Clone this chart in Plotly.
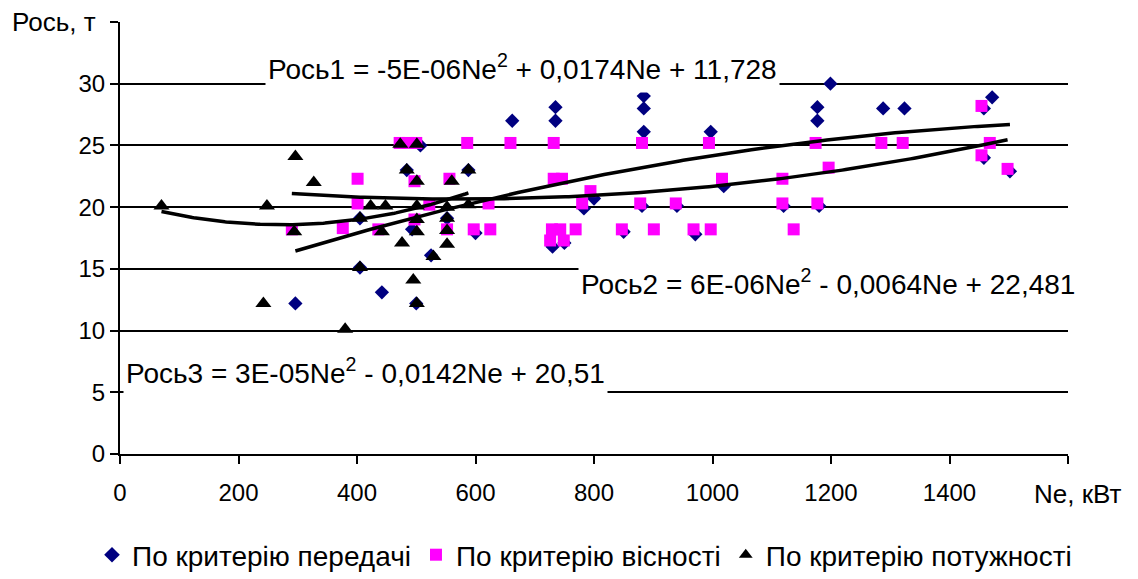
import numpy as np
import plotly.graph_objects as go

# --- data: Ne (kW) vs Рось (t) for three selection criteria ---
ne_transfer = [296, 405, 405, 442, 484, 493, 500, 507, 525, 552, 588, 600, 662, 735, 735,
               730, 750, 783, 800, 850, 884, 884, 884, 881, 940, 971, 997, 1019, 1120,
               1177, 1177, 1180, 1199, 1288, 1324, 1458, 1458, 1472, 1502]
r_transfer = [12.2, 15.1, 19.1, 13.1, 23.0, 18.2, 12.2, 25.0, 16.1, 19.1, 23.0, 17.9, 27.0, 28.1, 27.0,
              16.8, 17.1, 19.9, 20.7, 18.0, 29.0, 28.0, 26.1, 20.1, 20.1, 17.8, 26.1, 21.7, 20.1,
              28.1, 27.0, 20.1, 30.0, 28.0, 28.0, 28.0, 24.0, 28.9, 22.9]

ne_strength = [290, 376, 401, 401, 436, 472, 486, 500, 497, 497, 522, 552, 556, 586, 597,
               622, 625, 659, 726, 749, 732, 732, 746, 729, 743, 769, 780, 794, 847, 878,
               881, 901, 938, 968, 994, 997, 1016, 1118, 1118, 1137, 1174, 1177, 1196, 1285,
               1321, 1454, 1454, 1468, 1498]
r_strength = [18.2, 18.3, 22.3, 20.3, 18.2, 25.2, 25.2, 25.2, 22.1, 19.0, 20.2, 18.2, 22.3, 25.2, 18.2,
              20.3, 18.2, 25.2, 17.3, 17.3, 25.2, 22.3, 22.3, 18.2, 18.2, 18.2, 20.3, 21.3, 18.2, 20.3,
              25.2, 18.2, 20.3, 18.2, 25.2, 18.2, 22.3, 22.3, 20.3, 18.2, 25.2, 20.3, 23.2, 25.2,
              25.2, 28.2, 24.2, 25.2, 23.1]

ne_power = [70, 242, 248, 296, 327, 294, 380, 405, 405, 423, 442, 448, 473, 476, 484,
            495, 501, 501, 501, 501, 501, 501, 529, 552, 552, 552, 552, 560, 588, 588]
r_power = [20.1, 12.2, 20.1, 24.1, 22.0, 18.0, 10.1, 15.1, 19.1, 20.1, 18.0, 20.1, 25.1, 17.1, 23.0,
           14.1, 25.1, 22.1, 20.1, 19.0, 18.0, 12.2, 16.0, 20.0, 19.1, 18.1, 17.0, 22.1, 23.0, 20.2]

# quadratic trend coefficients (a, b, c): Рось = a*Ne^2 + b*Ne + c
coef_transfer = (-4.95e-6, 0.0174, 11.728)
coef_strength = (5.6e-6, -0.0064, 22.481)
coef_power = (2.6e-5, -0.0142, 20.51)

series_names = ["По критерію передачі", "По критерію вісності", "По критерію потужності"]
x_ticks = [0, 200, 400, 600, 800, 1000, 1200, 1400]
y_ticks = [0, 5, 10, 15, 20, 25, 30]

FONT = "Liberation Sans, Arial, sans-serif"

# plot-area geometry in pixels
L, R, T, B = 120, 1068, 22, 454
PW, PH = R - L, B - T


def trend(coef, xs):
    a, b, c = coef
    xs = np.asarray(xs, dtype=float)
    return a * xs ** 2 + b * xs + c


def fmt_num(v, decimals):
    s = f"{abs(v):.{decimals}f}".rstrip("0").rstrip(".")
    return s.replace(".", ",")


def equation_text(idx, coef):
    a, b, c = coef
    a_txt = f"{a:.0E}"
    sign_b = "+" if b >= 0 else "-"
    sign_c = "+" if c >= 0 else "-"
    return (f"Рось{idx} = {a_txt}Ne<sup>2</sup> {sign_b} {fmt_num(b, 4)}Ne "
            f"{sign_c} {fmt_num(c, 3)}")


fig = go.Figure()

fig.add_trace(go.Scatter(
    x=ne_transfer, y=r_transfer, mode="markers", name=series_names[0],
    marker=dict(symbol="diamond", size=11, color="#000080", line=dict(width=0)),
))
fig.add_trace(go.Scatter(
    x=ne_strength, y=r_strength, mode="markers", name=series_names[1],
    marker=dict(symbol="square", size=12, color="#FF00FF", line=dict(width=0)),
))
fig.add_trace(go.Scatter(
    x=ne_power, y=r_power, mode="markers", name=series_names[2],
    marker=dict(symbol="triangle-up", size=14, color="#000000", line=dict(width=0)),
))

# trend curves over each series' Ne span
for xs, coef in [(ne_transfer, coef_transfer), (ne_strength, coef_strength), (ne_power, coef_power)]:
    xx = np.linspace(min(xs), max(xs), 200)
    fig.add_trace(go.Scatter(
        x=xx, y=trend(coef, xx), mode="lines", showlegend=False, hoverinfo="skip",
        line=dict(color="black", width=3.5),
    ))

# equation labels on white boxes (left edge px, centre px)
eq_specs = [
    (1, coef_transfer, 265, 67),
    (2, coef_strength, 578, 282),
    (3, coef_power, 123, 371),
]
for idx, coef, px_left, py_mid in eq_specs:
    fig.add_annotation(
        x=(px_left - L) / PW, xref="paper", y=(B - py_mid) / PH, yref="paper",
        xanchor="left", yanchor="middle", showarrow=False,
        text=equation_text(idx, coef),
        font=dict(family=FONT, size=28, color="black"),
        bgcolor="white", borderpad=2, height=46,
    )

fig.add_annotation(
    x=(10 - L) / PW, xref="paper", y=1.0, yref="paper", xanchor="left", yanchor="middle",
    text="Рось, т", showarrow=False, font=dict(family=FONT, size=26, color="black"),
)
fig.add_annotation(
    x=(1032 - L) / PW, xref="paper", y=(B - 494) / PH, yref="paper",
    xanchor="left", yanchor="middle",
    text="Ne, кВт", showarrow=False, font=dict(family=FONT, size=26, color="black"),
)

fig.update_layout(
    width=1138, height=579,
    margin=dict(l=L, r=1138 - R, t=T, b=579 - B, autoexpand=False),
    paper_bgcolor="white", plot_bgcolor="white",
    font=dict(family=FONT, size=24, color="black"),
    showlegend=True,
    legend=dict(
        orientation="h",
        x=(92 - L) / PW, xanchor="left",
        y=(B - 555) / PH, yanchor="middle",
        font=dict(family=FONT, size=28, color="black"), itemsizing="constant",
        bgcolor="rgba(0,0,0,0)", itemwidth=30,
    ),
    xaxis=dict(
        range=[0, 1600], tickvals=x_ticks,
        showgrid=False, zeroline=False, showline=True, linecolor="black", linewidth=2,
        ticks="outside", ticklen=8, tickwidth=2, tickcolor="black",
        ticklabelstandoff=8, automargin=False,
        minor=dict(tickvals=[1600], ticks="outside", ticklen=8, tickwidth=2,
                   tickcolor="black", showgrid=False),
        tickfont=dict(family=FONT, size=24, color="black"),
    ),
    yaxis=dict(
        range=[0, 35], tickvals=y_ticks,
        showgrid=True, gridcolor="black", gridwidth=2,
        zeroline=False, showline=True, linecolor="black", linewidth=2,
        ticks="outside", ticklen=8, tickwidth=2, tickcolor="black", automargin=False,
        minor=dict(tickvals=[35], ticks="outside", ticklen=8, tickwidth=2,
                   tickcolor="black", showgrid=True, gridcolor="black", gridwidth=2),
        tickfont=dict(family=FONT, size=24, color="black"),
    ),
)

fig.write_html("out.html")
